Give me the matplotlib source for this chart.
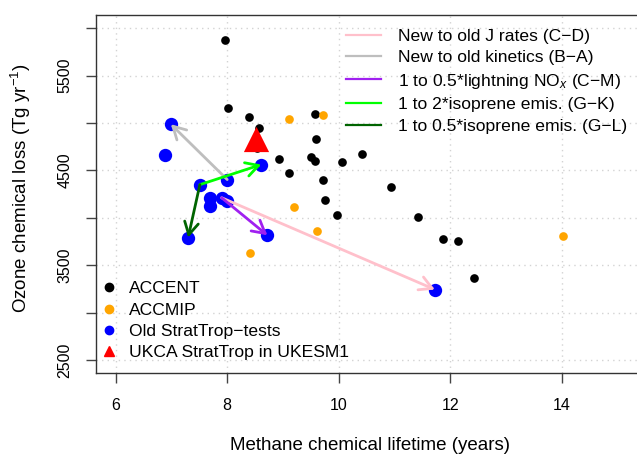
import matplotlib
matplotlib.use('Agg')
import matplotlib.pyplot as plt
from matplotlib.lines import Line2D

plt.rcParams['font.family'] = ['Liberation Sans', 'DejaVu Sans']
plt.rcParams['mathtext.fontset'] = 'custom'
plt.rcParams['mathtext.rm'] = 'Liberation Sans'
plt.rcParams['mathtext.it'] = 'Liberation Sans:italic'

# ---------------- data ----------------
accent_lifetime = [7.96, 8.01, 8.39, 8.57, 8.54, 9.57, 9.59, 8.93, 9.50, 9.58,
                   10.06, 10.41, 9.11, 9.72, 9.76, 9.97, 10.93, 11.41, 11.87,
                   12.13, 12.42]
accent_o3loss = [5880, 5160, 5069, 4946, 4732, 5094, 4834, 4624, 4641, 4595,
                 4584, 4677, 4472, 4403, 4190, 4034, 4325, 4006, 3774,
                 3760, 3367]

accmip_lifetime = [9.11, 9.72, 9.20, 9.61, 8.41, 14.01]
accmip_o3loss = [5048, 5087, 4114, 3858, 3634, 3813]

# Old StratTrop tests, labelled runs
old_names = ['A', 'E', 'K', 'B', 'G', 'F', 'H', 'C', 'I', 'L', 'M', 'D']
old_lifetime = [6.99, 6.88, 8.61, 8.00, 7.51, 7.70, 7.70, 7.90, 8.00, 7.30, 8.72, 11.72]
old_o3loss = [4988, 4659, 4562, 4404, 4350, 4205, 4128, 4212, 4180, 3792, 3816, 3244]

ukesm_lifetime = [8.52]
ukesm_o3loss = [4835]

arrow_pairs = [('C', 'D'), ('B', 'A'), ('C', 'M'), ('G', 'K'), ('G', 'L')]
arrow_colors = ['pink', '#BEBEBE', '#A020F0', '#00FF00', '#006400']
arrow_labels = ['New to old J rates (C\u2212D)',
                'New to old kinetics (B\u2212A)',
                '1 to 0.5*lightning NO$_{\\mathit{x}}$ (C\u2212M)',
                '1 to 2*isoprene emis. (G\u2212K)',
                '1 to 0.5*isoprene emis. (G\u2212L)']

point_labels = ['ACCENT', 'ACCMIP', 'Old StratTrop\u2212tests', 'UKCA StratTrop in UKESM1']

x_ticks = [6, 8, 10, 12, 14]
y_ticks = [2500, 3000, 3500, 4000, 4500, 5000, 5500, 6000]
y_ticklabels = ['2500', '', '3500', '', '4500', '', '5500', '']

# ---------------- figure ----------------
W, H = 637, 458
fig = plt.figure(figsize=(W / 100, H / 100), dpi=100)
ax = fig.add_axes([95.5 / W, 1 - 373.3 / H, (638 - 95.5) / W, (373.3 - 15) / H])
ax.set_xlim(5.64, 15.36)
ax.set_ylim(2360, 6140)

for gx in x_ticks:
    ax.axvline(gx, color='#D3D3D3', ls=(0, (1, 3)), lw=1, zorder=0)
for gy in y_ticks:
    ax.axhline(gy, color='#D3D3D3', ls=(0, (1, 3)), lw=1, zorder=0)

ax.scatter(accent_lifetime, accent_o3loss, s=39, color='black', lw=0, zorder=3)
ax.scatter(accmip_lifetime, accmip_o3loss, s=39, color='#FFA500', lw=0, zorder=3)
ax.scatter(old_lifetime, old_o3loss, s=92, color='#0000FF', lw=0, zorder=3)
ax.scatter(ukesm_lifetime, ukesm_o3loss, s=330, marker='^', color='#FF0000', lw=0, zorder=4)

pos = {n: (x, y) for n, x, y in zip(old_names, old_lifetime, old_o3loss)}
for (a, b), c in zip(arrow_pairs, arrow_colors):
    ax.annotate('', xy=pos[b], xytext=pos[a],
                arrowprops=dict(arrowstyle='->,head_length=0.9,head_width=0.5',
                                color=c, lw=2, shrinkA=0, shrinkB=0,
                                mutation_scale=10), zorder=5)

ax.set_xticks(x_ticks)
ax.set_yticks(y_ticks)
ax.set_yticklabels(y_ticklabels, rotation=90, va='center')
ax.tick_params(axis='both', length=7.5, width=1, color='#444444', labelsize=11.5,
               labelcolor='black')
ax.tick_params(axis='x', pad=10.5)
ax.tick_params(axis='y', pad=9)
for sp in ax.spines.values():
    sp.set_color('#333333')
    sp.set_linewidth(1)

ax.set_xlabel('Methane chemical lifetime (years)', fontsize=13.5)
ax.xaxis.set_label_coords((370 - 95.5) / (638 - 95.5), -(446 - 373.3) / (373.3 - 15))
ax.xaxis.label.set_va('center')
ax.set_ylabel('Ozone chemical loss (Tg yr$^{-1}$)', fontsize=13.5)
ax.yaxis.set_label_coords(-(95.5 - 21) / (638 - 95.5), (373.3 - 188) / (373.3 - 15))
ax.yaxis.label.set_va('center')

line_handles = [Line2D([], [], color=c, lw=1.6) for c in arrow_colors]
leg1 = ax.legend(line_handles, arrow_labels, loc='upper left',
                 bbox_to_anchor=(346 / W, 1 - 28.5 / H), bbox_transform=fig.transFigure,
                 frameon=False, fontsize=12.6, handlelength=2.0, handletextpad=0.95,
                 labelspacing=0.36, borderpad=0, borderaxespad=0)
ax.add_artist(leg1)

pt_handles = [Line2D([], [], ls='', marker='o', color='black', markersize=6),
              Line2D([], [], ls='', marker='o', color='#FFA500', markersize=6),
              Line2D([], [], ls='', marker='o', color='#0000FF', markersize=6),
              Line2D([], [], ls='', marker='^', color='#FF0000', markersize=6.5)]
ax.legend(pt_handles, point_labels, loc='upper left',
          bbox_to_anchor=(100 / W, 1 - 281 / H), bbox_transform=fig.transFigure,
          frameon=False, fontsize=12.6, handlelength=1.0, handletextpad=0.65,
          labelspacing=0.35, borderpad=0, borderaxespad=0)

fig.savefig('out.png', dpi=100)
